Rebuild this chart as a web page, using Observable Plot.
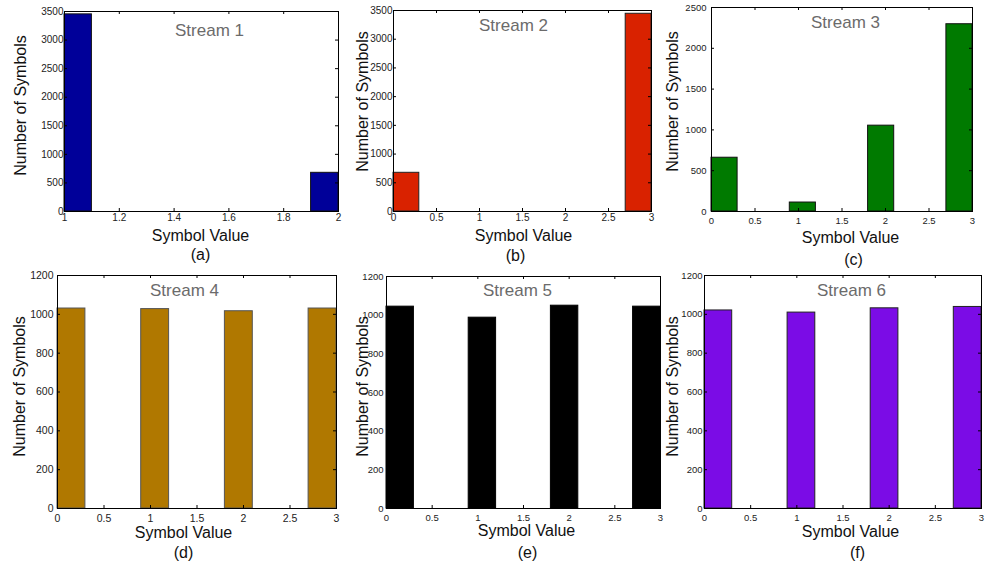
<!DOCTYPE html>
<html><head><meta charset="utf-8">
<script src="https://cdn.jsdelivr.net/npm/d3@7"></script>
<script src="https://cdn.jsdelivr.net/npm/@observablehq/plot@0.6"></script>
<style>
body{margin:0;background:#fff;font-family:"Liberation Sans",Arial,sans-serif}
#root{position:relative;width:985px;height:566px;overflow:hidden;background:#fff}
#root svg{position:absolute;left:0;top:0}
</style></head><body><div id="root"></div>
<script>
// ---- data (counts per histogram bin, 10 bins per stream) ----
const streamNames = ["Stream 1","Stream 2","Stream 3","Stream 4","Stream 5","Stream 6"];
const captions = ["(a)","(b)","(c)","(d)","(e)","(f)"];
const stream1 = [3450,0,0,0,0,0,0,0,0,677];
const stream2 = [674,0,0,0,0,0,0,0,0,3443];
const stream3 = [659,0,0,110,0,0,1052,0,0,2295];
const stream4 = [1030,0,0,1027,0,0,1016,0,0,1030];
const stream5 = [1044,0,0,987,0,0,1049,0,0,1044];
const stream6 = [1020,0,0,1009,0,0,1031,0,0,1038];
const xDomains = [[1,2],[0,3],[0,3],[0,3],[0,3],[0,3]];
const yDomains = [[0,3500],[0,3500],[0,2500],[0,1200],[0,1200],[0,1200]];
const xTicks12 = [1,1.2,1.4,1.6,1.8,2];
const xTicks03 = [0,0.5,1,1.5,2,2.5,3];
const yTicks3500 = [0,500,1000,1500,2000,2500,3000,3500];
const yTicks2500 = [0,500,1000,1500,2000,2500];
const yTicks1200 = [0,200,400,600,800,1000,1200];
const xLabel = "Symbol Value";
const yLabel = "Number of Symbols";
const fills = ["#000099","#d92200","#007a00","#b07800","#000000","#7b0ce6"];
const edges = ["#111111","#222222","#111111","#555555","#000000","#222222"];

// ---- layout (page pixels) ----
const W = 985, H = 566;
const panels = [
  {s: stream1, x0: 64,  x1: 338, y0: 11,  y1: 211, xt: xTicks12, yt: yTicks3500, tfs: 10, py: 1, px: 6,
   yl: [20, 105], xl: [200, 235], cap: [200, 254], st: [209, 30]},
  {s: stream2, x0: 393, x1: 651, y0: 10,  y1: 211, xt: xTicks03, yt: yTicks3500, tfs: 10, py: 1, px: 6,
   yl: [362, 101], xl: [523, 235], cap: [515, 255], st: [513, 25]},
  {s: stream3, x0: 711, x1: 972, y0: 7,   y1: 211, xt: xTicks03, yt: yTicks2500, tfs: 9.5, py: 5, px: 9,
   yl: [672, 101], xl: [850, 237], cap: [853, 259], st: [845, 22]},
  {s: stream4, x0: 57,  x1: 336, y0: 275, y1: 508, xt: xTicks03, yt: yTicks1200, tfs: 10.5, py: 4, px: 10,
   yl: [19, 386], xl: [183, 532], cap: [183, 552], st: [184, 290]},
  {s: stream5, x0: 386, x1: 660, y0: 276, y1: 508, xt: xTicks03, yt: yTicks1200, tfs: 9.5, py: 3, px: 9,
   yl: [362, 386], xl: [526, 530], cap: [527, 552], st: [517, 290]},
  {s: stream6, x0: 704, x1: 981, y0: 275, y1: 508, xt: xTicks03, yt: yTicks1200, tfs: 9.5, py: 2, px: 9,
   yl: [672, 386], xl: [850, 531], cap: [857, 552], st: [851, 290]}
];

const root = document.getElementById("root");
panels.forEach((p, i) => {
  const [lo, hi] = xDomains[i];
  const w = (hi - lo) / p.s.length;
  const bins = p.s.map((c, k) => ({x1: lo + k * w, x2: lo + (k + 1) * w, y: c}));
  const tickLenY = 3 * (yDomains[i][1] - yDomains[i][0]) / (p.y1 - p.y0);
  const tickLenX = 3 * (hi - lo) / (p.x1 - p.x0);
  const ymax = yDomains[i][1];
  const txt = (t, [px, py], o) => Plot.text([t], {
    frameAnchor: "top-left", textAnchor: "middle", lineAnchor: "middle",
    dx: px - p.x0, dy: py - p.y0, ...o});
  const chart = Plot.plot({
    width: W, height: H,
    marginLeft: p.x0, marginRight: W - p.x1, marginTop: p.y0, marginBottom: H - p.y1,
    style: {background: "transparent", overflow: "visible", fontFamily: "Liberation Sans, Arial, sans-serif"},
    x: {domain: xDomains[i], axis: null},
    y: {domain: yDomains[i], axis: null},
    marks: [
      Plot.rectY(bins, {x1: "x1", x2: "x2", y: "y", fill: fills[i], stroke: edges[i], strokeWidth: 1}),
      // inward ticks on all four sides
      Plot.ruleX(p.xt, {x: d => d, y1: 0, y2: tickLenY, stroke: "#000"}),
      Plot.ruleX(p.xt, {x: d => d, y1: ymax - tickLenY, y2: ymax, stroke: "#000"}),
      Plot.ruleY(p.yt, {y: d => d, x1: lo, x2: lo + tickLenX, stroke: "#000"}),
      Plot.ruleY(p.yt, {y: d => d, x1: hi - tickLenX, x2: hi, stroke: "#000"}),
      // tick labels
      Plot.text(p.xt, {x: d => d, frameAnchor: "bottom", lineAnchor: "middle", dy: p.px, text: d => String(d), fontSize: p.tfs, fill: "#222"}),
      Plot.text(p.yt, {y: d => d, frameAnchor: "left", lineAnchor: "middle", dx: -p.py, textAnchor: "end", text: d => String(d), fontSize: p.tfs, fill: "#222"}),
      Plot.frame({stroke: "#000", strokeWidth: 1}),
      txt(streamNames[i], p.st, {fontSize: 17, fill: "#6b6b6b"}),
      txt(yLabel, p.yl, {fontSize: 16, rotate: -90, fill: "#111"}),
      txt(xLabel, p.xl, {fontSize: 16, fill: "#111"}),
      txt(captions[i], p.cap, {fontSize: 16, fill: "#111"})
    ]
  });
  root.appendChild(chart);
});
</script>
</body></html>
